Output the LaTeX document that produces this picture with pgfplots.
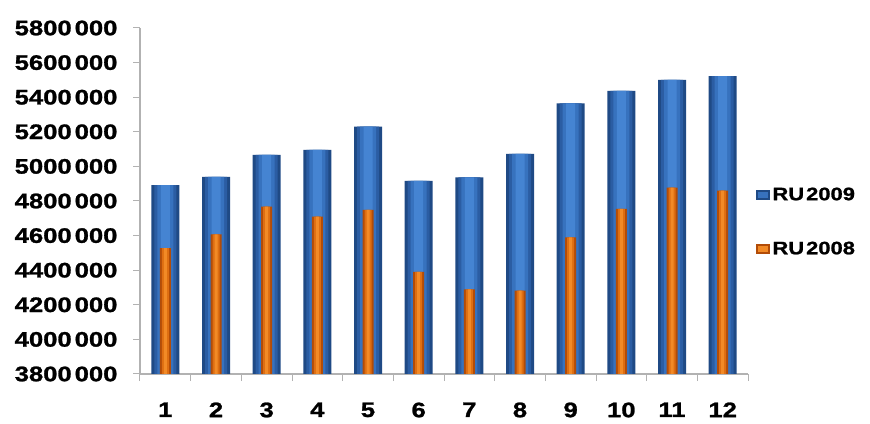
\documentclass[border=0pt]{standalone}
\usepackage{pgfplots}
\usepackage{pgfplotstable}
\pgfplotsset{compat=1.18}
\usepackage{fontspec}
\setmainfont{Liberation Sans}
\newfontfamily\lab{Liberation Sans}[FakeStretch=1.22, FakeBold=1.2]
\definecolor{b1}{HTML}{1F4A85}
\definecolor{b2}{HTML}{2B5DA3}
\definecolor{b3}{HTML}{3772BE}
\definecolor{b4}{HTML}{4584D2}
\definecolor{o1}{HTML}{B24C08}
\definecolor{o2}{HTML}{DE6E12}
\definecolor{o3}{HTML}{F28A26}
\pgfplotstableread{
x y09 y08
1 4892000 4527000
2 4939000 4607000
3 5066000 4767000
4 5095000 4709000
5 5230000 4748000
6 4916000 4391000
7 4937000 4289000
8 5072000 4282000
9 5365000 4590000
10 5436000 4754000
11 5500000 4877000
12 5522000 4860000
}\data
\begin{document}
\begin{tikzpicture}[x=1pt,y=1pt]
\path[use as bounding box] (0,0) rectangle (870,423);
\begin{axis}[
  at={(140pt,49pt)}, anchor=south west,
  scale only axis, width=608pt, height=346pt,
  xmin=0.5, xmax=12.5, ymin=3800000, ymax=5800000,
  axis x line*=bottom, axis y line*=left,
  axis line style={draw=gray!60, line width=1.2pt},
  tick style={draw=gray!60, line width=1pt},
  tick align=outside,
  xtick={1,2,3,4,5,6,7,8,9,10,11,12},
  major x tick style={draw=none},
  minor xtick={0.5,1.5,2.5,3.5,4.5,5.5,6.5,7.5,8.5,9.5,10.5,11.5,12.5},
  minor tick length=7pt,
  major tick length=7pt,
  ytick={3800000,4000000,4200000,4400000,4600000,4800000,5000000,5200000,5400000,5600000,5800000},
  yticklabels={3800\hspace{3pt}000,4000\hspace{3pt}000,4200\hspace{3pt}000,4400\hspace{3pt}000,4600\hspace{3pt}000,4800\hspace{3pt}000,5000\hspace{3pt}000,5200\hspace{3pt}000,5400\hspace{3pt}000,5600\hspace{3pt}000,5800\hspace{3pt}000},
  xticklabels={1,2,3,4,5,6,7,8,9,10,11,12},
  scaled y ticks=false,
  ticklabel style={font=\lab\bfseries\fontsize{21}{21}\selectfont},
  xticklabel style={yshift=-18pt},
  yticklabel style={xshift=-12pt},
  legend style={at={(1.0135,0.545)}, anchor=north west, draw=none, fill=none,
    font=\lab\bfseries\fontsize{18}{18}\selectfont, row sep=36pt, inner sep=0pt,
    nodes={inner xsep=2pt}},
  legend cell align=left,
]
\addplot[ybar, bar width=28pt, bar shift=0pt, draw=none, fill=b1,
  legend image code/.code={\fill[b1] (0pt,-5pt) rectangle (14pt,5pt); \fill[b3] (2pt,-3pt) rectangle (12pt,3pt);}]
  table[x=x,y=y09]{\data};
\addlegendentry{RU\hspace{2pt}2009}
\addplot[ybar, bar width=22pt, bar shift=0pt, draw=none, fill=b2, forget plot] table[x=x,y=y09]{\data};
\addplot[ybar, bar width=16pt, bar shift=0pt, draw=none, fill=b3, forget plot] table[x=x,y=y09]{\data};
\addplot[ybar, bar width=9pt, bar shift=0pt, draw=none, fill=b4, forget plot] table[x=x,y=y09]{\data};
\addplot[ybar, bar width=11pt, bar shift=0pt, draw=none, fill=o1,
  legend image code/.code={\fill[o1] (0pt,-5pt) rectangle (14pt,5pt); \fill[o3] (2pt,-3pt) rectangle (12pt,3pt);}]
  table[x=x,y=y08]{\data};
\addlegendentry{RU\hspace{2pt}2008}
\addplot[ybar, bar width=7pt, bar shift=0pt, draw=none, fill=o2, forget plot] table[x=x,y=y08]{\data};
\addplot[ybar, bar width=3pt, bar shift=0pt, draw=none, fill=o3, forget plot] table[x=x,y=y08]{\data};
\end{axis}
\end{tikzpicture}
\end{document}
